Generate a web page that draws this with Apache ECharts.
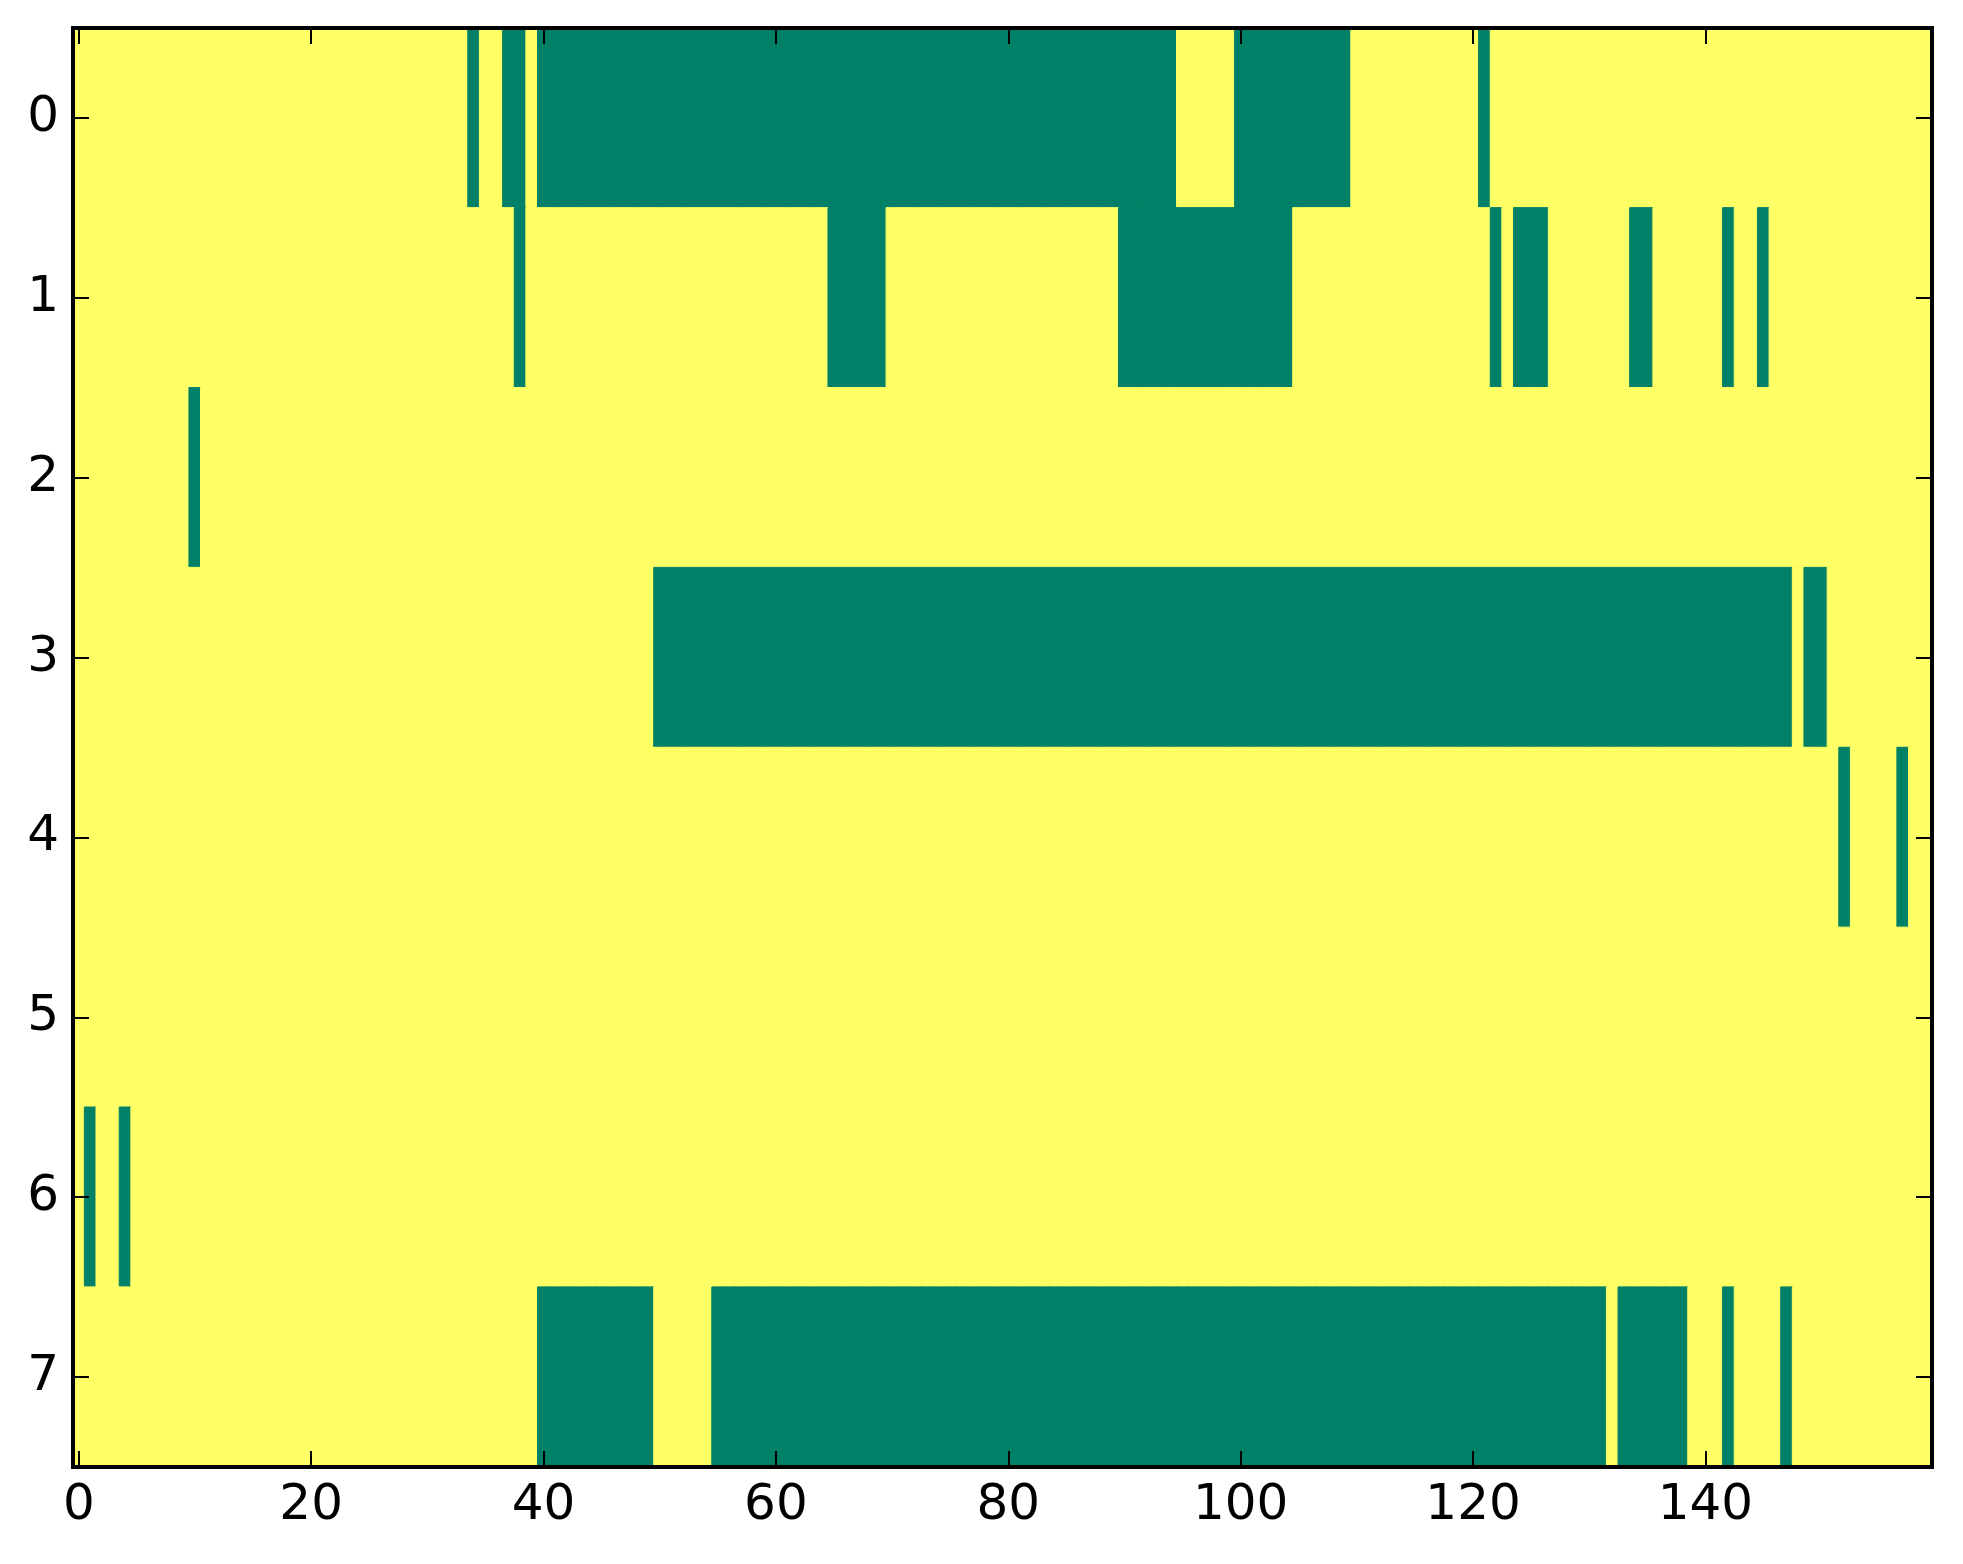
<!DOCTYPE html>
<html>
<head>
<meta charset="utf-8">
<script src="https://cdn.jsdelivr.net/npm/echarts@6/dist/echarts.min.js"></script>
<style>
html,body{margin:0;padding:0;background:#fff;}
#chart{width:1963px;height:1564px;}
</style>
</head>
<body>
<div id="chart"></div>
<script>
// Number of columns and rows of the image
const columnCount = 160;
const rowLabels = ['0','1','2','3','4','5','6','7'];
const xTickLabels = ['0','20','40','60','80','100','120','140'];

// Runs of value 0 (green) per row, as [firstColumn, lastColumn]; all other cells are 1 (yellow)
const row0Zero = [[34,34],[37,38],[40,94],[100,109],[121,121]];
const row1Zero = [[38,38],[65,69],[90,104],[122,122],[124,126],[134,135],[142,142],[145,145]];
const row2Zero = [[10,10]];
const row3Zero = [[50,147],[149,150]];
const row4Zero = [[152,152],[157,157]];
const row5Zero = [];
const row6Zero = [[1,1],[4,4]];
const row7Zero = [[40,49],[55,131],[133,138],[142,142],[147,147]];

const rowsZero = [row0Zero,row1Zero,row2Zero,row3Zero,row4Zero,row5Zero,row6Zero,row7Zero];

const GREEN = '#008066';
const YELLOW = '#ffff66';

const columns = [];
for (let c = 0; c < columnCount; c++) columns.push(String(c));

const cells = [];
rowsZero.forEach((runs, r) => {
  for (let c = 0; c < columnCount; c++) {
    let v = 1;
    for (const [a, b] of runs) { if (c >= a && c <= b) { v = 0; break; } }
    cells.push({ value: [c, r, v], itemStyle: { borderColor: v ? YELLOW : GREEN, borderWidth: 1 } });
  }
});

const showX = (idx) => xTickLabels.indexOf(String(idx)) >= 0;

const font = 'DejaVu Sans';
const tickStyle = { show: true, inside: true, length: 16, lineStyle: { color: '#000', width: 2 } };

const chart = echarts.init(document.getElementById('chart'));
chart.setOption({
  animation: false,
  backgroundColor: '#fff',
  grid: { left: 73, right: 31, top: 28, bottom: 97, show: true, borderColor: '#000', borderWidth: 4, backgroundColor: 'transparent', z: 10 },
  visualMap: {
    show: false, type: 'piecewise', dimension: 2,
    pieces: [{ value: 0, color: GREEN }, { value: 1, color: YELLOW }]
  },
  xAxis: [
    {
      type: 'category', data: columns, position: 'bottom',
      axisLine: { show: false },
      axisTick: Object.assign({}, tickStyle, { alignWithLabel: true, interval: (i) => showX(i) }),
      axisLabel: { interval: (i) => showX(i), color: '#000', fontSize: 50, fontFamily: font, margin: 14 },
      splitLine: { show: false }, z: 12
    },
    {
      type: 'category', data: columns, position: 'top',
      axisLine: { show: false },
      axisTick: Object.assign({}, tickStyle, { alignWithLabel: true, interval: (i) => showX(i) }),
      axisLabel: { show: false }, splitLine: { show: false }, z: 12
    }
  ],
  yAxis: [
    {
      type: 'category', data: rowLabels, inverse: true, position: 'left',
      axisLine: { show: false },
      axisTick: Object.assign({}, tickStyle, { alignWithLabel: true }),
      axisLabel: { color: '#000', fontSize: 50, fontFamily: font, margin: 14 },
      splitLine: { show: false }, z: 12
    },
    {
      type: 'category', data: rowLabels, inverse: true, position: 'right',
      axisLine: { show: false },
      axisTick: Object.assign({}, tickStyle, { alignWithLabel: true }),
      axisLabel: { show: false }, splitLine: { show: false }, z: 12
    }
  ],
  series: [{
    type: 'heatmap', xAxisIndex: 0, yAxisIndex: 0, data: cells,
    emphasis: { disabled: true }, progressive: 0
  }]
});
</script>
</body>
</html>
